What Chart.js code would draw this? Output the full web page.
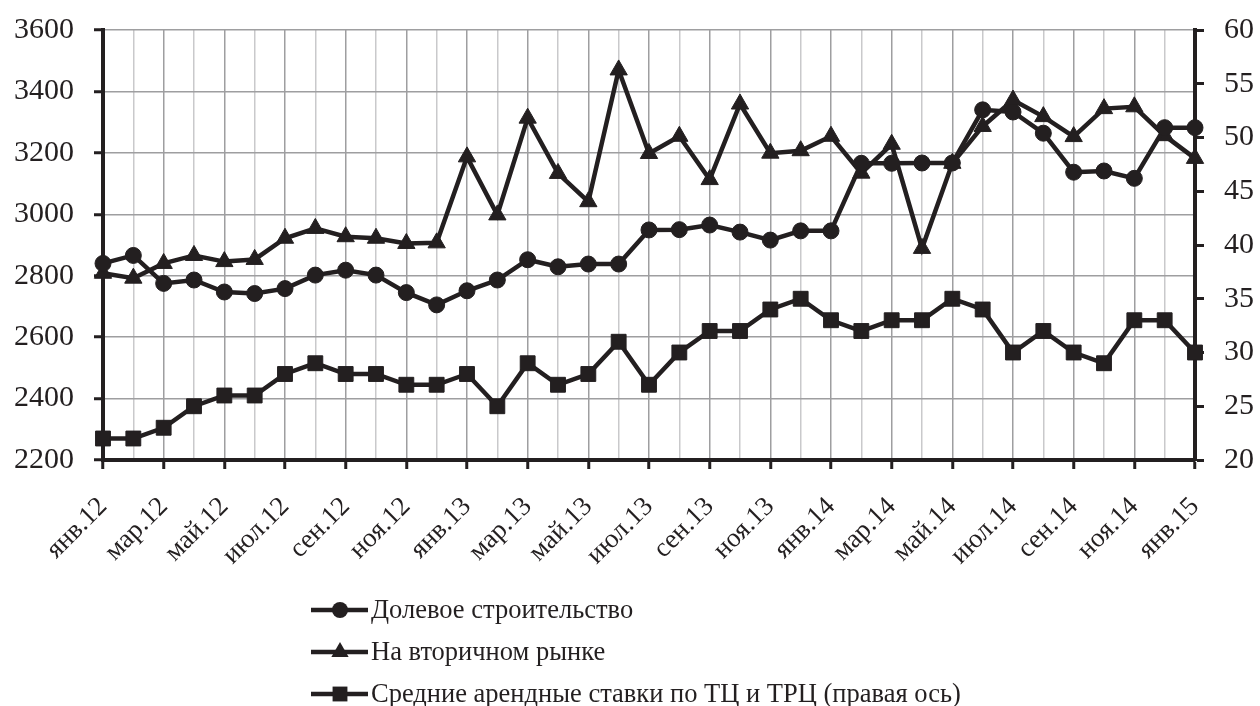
<!DOCTYPE html>
<html>
<head>
<meta charset="utf-8">
<script src="https://cdn.jsdelivr.net/npm/chart.js@4"></script>
<style>
  html, body { margin: 0; background: #fff; }
  #wrap { width: 1260px; height: 706px; }
</style>
</head>
<body>
<div id="wrap"><canvas id="chart"></canvas></div>
<script>
// months, Jan 2012 .. Jan 2015
const months = [
  'янв.12','фев.12','мар.12','апр.12','май.12','июн.12','июл.12','авг.12','сен.12','окт.12','ноя.12','дек.12',
  'янв.13','фев.13','мар.13','апр.13','май.13','июн.13','июл.13','авг.13','сен.13','окт.13','ноя.13','дек.13',
  'янв.14','фев.14','мар.14','апр.14','май.14','июн.14','июл.14','авг.14','сен.14','окт.14','ноя.14','дек.14',
  'янв.15'
];

// left axis
const dolevoe = [
  2840, 2866, 2775, 2786, 2747, 2742, 2758, 2802, 2818, 2802, 2745, 2705,
  2751, 2786, 2852, 2829, 2838, 2838, 2949, 2950, 2965, 2942, 2916, 2946,
  2946, 3166, 3166, 3167, 3167, 3340, 3333, 3264, 3137, 3141, 3117, 3282,
  3282
];
const vtorichny = [
  2808, 2792, 2840, 2866, 2846, 2853, 2922, 2954, 2927, 2922, 2905, 2907,
  3187, 2998, 3313, 3133, 3041, 3470, 3198, 3254, 3113, 3359, 3199, 3207,
  3254, 3134, 3228, 2889, 3166, 3286, 3372, 3318, 3253, 3344, 3350, 3256,
  3182
];
// right axis
const arenda = [
  22, 22, 23, 25, 26, 26, 28, 29, 28, 28, 27, 27,
  28, 25, 29, 27, 28, 31, 27, 30, 32, 32, 34, 35,
  33, 32, 33, 33, 35, 34, 30, 32, 30, 29, 33, 33,
  30
];

const leftTicks = [2200, 2400, 2600, 2800, 3000, 3200, 3400, 3600];
const rightTicks = [20, 25, 30, 35, 40, 45, 50, 55, 60];

const ink = '#231f20';
const gridMajor = '#9e9ea0';
const gridMinor = '#c9c9cb';
const clear = 'rgba(0,0,0,0)';
const serif = "'Liberation Serif', 'DejaVu Serif', serif";

const legendPlugin = {
  id: 'lineLegend',
  afterDraw(chart) {
    const ctx = chart.ctx;
    chart.data.datasets.forEach((ds, i) => {
      const y = 610 + i * 42;
      ctx.save();
      ctx.strokeStyle = ink;
      ctx.fillStyle = ink;
      ctx.lineWidth = 4.5;
      ctx.beginPath();
      ctx.moveTo(311, y);
      ctx.lineTo(368, y);
      ctx.stroke();
      const cx = 340;
      const r = ds.pointRadius;
      ctx.beginPath();
      if (ds.pointStyle === 'circle') {
        ctx.arc(cx, y, r, 0, Math.PI * 2);
      } else if (ds.pointStyle === 'triangle') {
        ctx.moveTo(cx, y - r);
        ctx.lineTo(cx + r * 0.866, y + r / 2);
        ctx.lineTo(cx - r * 0.866, y + r / 2);
        ctx.closePath();
      } else {
        const s = r * Math.SQRT1_2;
        ctx.rect(cx - s, y - s, 2 * s, 2 * s);
      }
      ctx.fill();
      ctx.font = "26.5px " + serif;
      ctx.textBaseline = 'middle';
      ctx.textAlign = 'left';
      ctx.fillText(ds.label, 371, y + 1);
      ctx.restore();
    });
  }
};

// keep the plot box fixed: trim the extra room Chart.js adds for the end labels
function fixVertical(width) {
  return scale => {
    scale.width = width;
    scale.paddingTop = 4;
    scale.paddingBottom = 4;
  };
}

new Chart(document.getElementById('chart').getContext('2d'), {
  type: 'line',
  data: {
    labels: months,
    datasets: [
      {
        label: 'Долевое строительство',
        data: dolevoe,
        yAxisID: 'y',
        borderColor: ink,
        backgroundColor: ink,
        borderWidth: 4.5,
        pointStyle: 'circle',
        pointRadius: 8,
        pointBorderWidth: 1,
        tension: 0
      },
      {
        label: 'На вторичном рынке',
        data: vtorichny,
        yAxisID: 'y',
        borderColor: ink,
        backgroundColor: ink,
        borderWidth: 4.5,
        pointStyle: 'triangle',
        pointRadius: 10,
        pointBorderWidth: 1,
        tension: 0
      },
      {
        label: 'Средние арендные ставки по ТЦ и ТРЦ (правая ось)',
        data: arenda,
        yAxisID: 'y1',
        borderColor: ink,
        backgroundColor: ink,
        borderWidth: 4.5,
        pointStyle: 'rect',
        pointRadius: 10.5,
        pointBorderWidth: 1,
        tension: 0
      }
    ]
  },
  options: {
    responsive: true,
    maintainAspectRatio: false,
    animation: false,
    layout: {
      padding: { top: 30, right: 0, bottom: 130, left: 0 }
    },
    plugins: {
      legend: { display: false },
      tooltip: { enabled: false }
    },
    scales: {
      x: {
        offset: false,
        grid: {
          color: c => (c.index % 2 === 0 ? gridMajor : gridMinor),
          lineWidth: 1.5,
          tickLength: 9,
          tickWidth: 3,
          tickColor: c => (c.index % 2 === 0 ? ink : clear)
        },
        border: { color: ink, width: 4 },
        ticks: {
          autoSkip: false,
          minRotation: 45,
          maxRotation: 45,
          padding: 22,
          color: ink,
          font: { family: serif, size: 27 },
          callback(value, index) {
            return index % 2 === 0 ? this.getLabelForValue(value) : '';
          }
        },
        afterFit(scale) { scale.height = 116; }
      },
      y: {
        position: 'left',
        min: 2200,
        max: 3600,
        grid: {
          color: c => (c.tick && c.tick.value % 200 === 0 ? gridMajor : gridMinor),
          lineWidth: 1.5,
          tickLength: 9,
          tickWidth: 3,
          tickColor: c => (c.tick && leftTicks.includes(c.tick.value) ? ink : clear)
        },
        border: { color: ink, width: 4 },
        ticks: {
          stepSize: 100,
          padding: 20,
          color: ink,
          font: { family: serif, size: 30 },
          callback: v => (leftTicks.includes(v) ? v : '')
        },
        afterFit: fixVertical(103)
      },
      y1: {
        position: 'right',
        min: 20,
        max: 60,
        grid: {
          drawOnChartArea: false,
          tickLength: 9,
          tickWidth: 3,
          tickColor: c => (c.tick && rightTicks.includes(c.tick.value) ? ink : clear)
        },
        border: { color: ink, width: 4 },
        ticks: {
          stepSize: 2.5,
          padding: 20,
          color: ink,
          font: { family: serif, size: 30 },
          callback: v => (rightTicks.includes(v) ? v : '')
        },
        afterFit: fixVertical(65)
      }
    }
  },
  plugins: [legendPlugin]
});
</script>
</body>
</html>
